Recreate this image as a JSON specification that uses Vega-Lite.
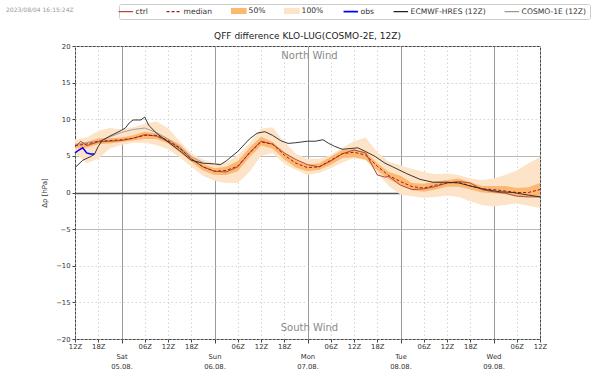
{
  "$schema": "https://vega.github.io/schema/vega-lite/v6.json",
  "width": 465,
  "height": 293,
  "autosize": "none",
  "padding": {"left": 75, "top": 46, "right": 60, "bottom": 42},
  "background": "white",
  "config": {"font": "DejaVu Sans", "view": {"stroke": "#444", "strokeWidth": 1}},
  "title": {"text": "QFF difference KLO-LUG(COSMO-2E, 12Z)", "fontSize": 9, "fontWeight": "normal", "color": "#222", "offset": 5, "anchor": "middle", "frame": "group", "dy": 42},
  "datasets": {
    "ens": [
      {"h": 0, "lo100": 5.4, "hi100": 7.2, "lo50": 6.0, "hi50": 6.7, "med": 6.4},
      {"h": 3, "lo100": 4.0, "hi100": 7.5, "lo50": 6.1, "hi50": 6.9, "med": 6.6},
      {"h": 6, "lo100": 4.6, "hi100": 8.4, "lo50": 6.6, "hi50": 7.4, "med": 7.0},
      {"h": 9, "lo100": 6.0, "hi100": 8.8, "lo50": 6.7, "hi50": 7.4, "med": 7.1},
      {"h": 12, "lo100": 6.5, "hi100": 8.6, "lo50": 6.9, "hi50": 7.5, "med": 7.2},
      {"h": 15, "lo100": 6.8, "hi100": 8.9, "lo50": 7.1, "hi50": 7.8, "med": 7.4},
      {"h": 18, "lo100": 6.8, "hi100": 9.4, "lo50": 7.3, "hi50": 8.3, "med": 7.8},
      {"h": 21, "lo100": 6.5, "hi100": 9.7, "lo50": 7.3, "hi50": 8.1, "med": 7.8},
      {"h": 24, "lo100": 5.9, "hi100": 8.8, "lo50": 6.7, "hi50": 7.4, "med": 7.1},
      {"h": 27, "lo100": 4.8, "hi100": 7.0, "lo50": 5.5, "hi50": 6.6, "med": 6.1},
      {"h": 30, "lo100": 3.5, "hi100": 5.4, "lo50": 4.2, "hi50": 5.0, "med": 4.6},
      {"h": 33, "lo100": 2.3, "hi100": 4.5, "lo50": 3.0, "hi50": 3.9, "med": 3.5},
      {"h": 36, "lo100": 1.6, "hi100": 4.0, "lo50": 2.4, "hi50": 3.3, "med": 2.9},
      {"h": 39, "lo100": 1.3, "hi100": 4.1, "lo50": 2.4, "hi50": 3.5, "med": 3.0},
      {"h": 42, "lo100": 1.3, "hi100": 5.1, "lo50": 2.9, "hi50": 4.3, "med": 3.6},
      {"h": 45, "lo100": 2.8, "hi100": 6.7, "lo50": 4.8, "hi50": 6.1, "med": 5.4},
      {"h": 48, "lo100": 5.0, "hi100": 8.7, "lo50": 6.4, "hi50": 7.6, "med": 6.9},
      {"h": 51, "lo100": 5.4, "hi100": 8.9, "lo50": 6.0, "hi50": 6.9, "med": 6.6},
      {"h": 54, "lo100": 3.9, "hi100": 6.9, "lo50": 4.5, "hi50": 5.5, "med": 5.1},
      {"h": 57, "lo100": 3.1, "hi100": 5.3, "lo50": 3.4, "hi50": 4.4, "med": 4.0},
      {"h": 60, "lo100": 2.4, "hi100": 4.6, "lo50": 2.9, "hi50": 3.8, "med": 3.4},
      {"h": 63, "lo100": 2.7, "hi100": 4.6, "lo50": 3.1, "hi50": 4.0, "med": 3.5},
      {"h": 66, "lo100": 3.3, "hi100": 5.1, "lo50": 3.8, "hi50": 4.9, "med": 4.4},
      {"h": 69, "lo100": 4.1, "hi100": 6.1, "lo50": 4.7, "hi50": 5.8, "med": 5.3},
      {"h": 72, "lo100": 4.7, "hi100": 7.0, "lo50": 4.8, "hi50": 5.9, "med": 5.5},
      {"h": 75, "lo100": 4.4, "hi100": 7.5, "lo50": 4.5, "hi50": 5.6, "med": 5.1},
      {"h": 78, "lo100": 2.6, "hi100": 5.5, "lo50": 3.0, "hi50": 4.0, "med": 3.6},
      {"h": 81, "lo100": 0.9, "hi100": 4.2, "lo50": 1.8, "hi50": 2.8, "med": 2.3},
      {"h": 84, "lo100": -0.3, "hi100": 3.7, "lo50": 1.0, "hi50": 2.3, "med": 1.5},
      {"h": 87, "lo100": -0.5, "hi100": 3.2, "lo50": 0.3, "hi50": 1.3, "med": 0.8},
      {"h": 90, "lo100": -0.7, "hi100": 2.8, "lo50": 0.1, "hi50": 1.2, "med": 0.6},
      {"h": 93, "lo100": -0.6, "hi100": 2.5, "lo50": 0.4, "hi50": 1.5, "med": 1.0},
      {"h": 96, "lo100": -0.4, "hi100": 2.6, "lo50": 0.8, "hi50": 1.7, "med": 1.3},
      {"h": 99, "lo100": -0.6, "hi100": 2.4, "lo50": 0.8, "hi50": 1.9, "med": 1.4},
      {"h": 102, "lo100": -1.2, "hi100": 1.9, "lo50": 0.4, "hi50": 1.4, "med": 0.9},
      {"h": 105, "lo100": -1.7, "hi100": 1.7, "lo50": 0.0, "hi50": 0.9, "med": 0.5},
      {"h": 108, "lo100": -1.9, "hi100": 1.9, "lo50": -0.1, "hi50": 0.9, "med": 0.4},
      {"h": 111, "lo100": -1.7, "hi100": 2.4, "lo50": -0.2, "hi50": 0.9, "med": 0.2},
      {"h": 114, "lo100": -1.5, "hi100": 3.0, "lo50": -0.5, "hi50": 0.6, "med": 0.0},
      {"h": 117, "lo100": -1.8, "hi100": 4.0, "lo50": -0.6, "hi50": 0.7, "med": 0.0},
      {"h": 120, "lo100": -2.1, "hi100": 4.8, "lo50": -0.5, "hi50": 1.3, "med": 0.4}
    ],
    "ctrl": [
      {"h": 0, "v": 6.2}, {"h": 1.5, "v": 7.0}, {"h": 3, "v": 6.4}, {"h": 6, "v": 6.9}, {"h": 9, "v": 7.0},
      {"h": 12, "v": 7.1}, {"h": 15, "v": 7.4}, {"h": 18, "v": 7.9}, {"h": 21, "v": 7.7}, {"h": 24, "v": 7.0},
      {"h": 27, "v": 6.0}, {"h": 30, "v": 4.6}, {"h": 33, "v": 3.5}, {"h": 36, "v": 2.9}, {"h": 39, "v": 2.8},
      {"h": 42, "v": 3.5}, {"h": 45, "v": 5.4}, {"h": 48, "v": 7.0}, {"h": 51, "v": 6.6}, {"h": 54, "v": 5.4},
      {"h": 57, "v": 4.5}, {"h": 60, "v": 3.8}, {"h": 63, "v": 3.5}, {"h": 66, "v": 4.3}, {"h": 69, "v": 5.3},
      {"h": 72, "v": 5.8}, {"h": 75, "v": 5.4}, {"h": 78, "v": 2.4}, {"h": 80, "v": 2.1}, {"h": 81, "v": 2.2},
      {"h": 84, "v": 1.0}, {"h": 87, "v": 0.4}, {"h": 90, "v": 0.5}, {"h": 93, "v": 0.8}, {"h": 96, "v": 1.3},
      {"h": 99, "v": 1.5}, {"h": 102, "v": 1.3}, {"h": 105, "v": 0.4}, {"h": 108, "v": 0.1}, {"h": 111, "v": -0.1},
      {"h": 114, "v": -0.5}, {"h": 117, "v": -0.6}, {"h": 120, "v": -0.6}
    ],
    "obs": [
      {"h": 0, "v": 5.4}, {"h": 1, "v": 5.8}, {"h": 2, "v": 6.1}, {"h": 3, "v": 5.4}, {"h": 4, "v": 5.25}, {"h": 5, "v": 5.25}
    ],
    "ecmwf": [
      {"h": 0, "v": 3.4}, {"h": 2, "v": 4.4}, {"h": 4, "v": 4.9}, {"h": 5, "v": 5.2}, {"h": 6, "v": 6.3},
      {"h": 7, "v": 7.1}, {"h": 9, "v": 7.7}, {"h": 12, "v": 8.5}, {"h": 13, "v": 8.8}, {"h": 14, "v": 9.5},
      {"h": 15, "v": 9.9}, {"h": 17, "v": 9.9}, {"h": 18, "v": 10.3}, {"h": 19, "v": 9.2}, {"h": 21, "v": 8.1},
      {"h": 24, "v": 6.9}, {"h": 27, "v": 5.7}, {"h": 30, "v": 4.4}, {"h": 33, "v": 4.0}, {"h": 36, "v": 3.9},
      {"h": 37.5, "v": 3.8}, {"h": 39, "v": 4.3}, {"h": 42, "v": 5.6}, {"h": 45, "v": 7.3}, {"h": 47, "v": 8.1},
      {"h": 49, "v": 8.3}, {"h": 51, "v": 7.8}, {"h": 53, "v": 7.1}, {"h": 55, "v": 6.7}, {"h": 57, "v": 6.8},
      {"h": 60, "v": 7.0}, {"h": 62, "v": 7.0}, {"h": 64, "v": 7.2}, {"h": 65.5, "v": 6.7}, {"h": 67, "v": 6.3},
      {"h": 69, "v": 5.9}, {"h": 71, "v": 6.0}, {"h": 73, "v": 6.1}, {"h": 75, "v": 5.6}, {"h": 77.5, "v": 4.9},
      {"h": 80, "v": 4.0}, {"h": 82, "v": 3.5}, {"h": 85.5, "v": 2.6}, {"h": 89, "v": 1.8}, {"h": 92.4, "v": 1.4},
      {"h": 96, "v": 1.4}, {"h": 99, "v": 1.3}, {"h": 102.7, "v": 0.8}, {"h": 106, "v": 0.4}, {"h": 109.6, "v": 0.1},
      {"h": 113, "v": 0.0}, {"h": 116.4, "v": -0.3}, {"h": 120, "v": -0.6}
    ],
    "c1e": [
      {"h": 0, "v": 6.5}, {"h": 3, "v": 6.8}, {"h": 6, "v": 7.0}, {"h": 9, "v": 7.6}, {"h": 12, "v": 8.2},
      {"h": 15, "v": 8.6}, {"h": 18, "v": 8.8}, {"h": 21, "v": 8.2}, {"h": 24, "v": 7.3}, {"h": 27, "v": 6.2},
      {"h": 30, "v": 4.9}, {"h": 33, "v": 4.1}
    ],
    "notes": [
      {"h": 60.5, "v": 18.6, "t": "North Wind"},
      {"h": 60.5, "v": -18.5, "t": "South Wind"}
    ],
    "stamp": [
      {"h": -17.8, "v": 24.9, "t": "2023/08/04 16:15:24Z"}
    ]
  },
  "encoding": {
    "x": {
      "field": "h", "type": "quantitative", "title": null,
      "scale": {"domain": [0, 120], "nice": false, "zero": false},
      "axis": {
        "values": [0, 6, 12, 18, 24, 30, 36, 42, 48, 54, 60, 66, 72, 78, 84, 90, 96, 102, 108, 114, 120],
        "title": null,
        "domain": false,
        "grid": true,
        "gridColor": {"condition": {"test": "datum.value % 24 === 12", "value": "#9a9a9a"}, "value": "#c9c9c9"},
        "gridDash": {"condition": {"test": "datum.value % 24 === 12", "value": []}, "value": [1.5, 2.5]},
        "gridWidth": {"condition": {"test": "datum.value % 24 === 12", "value": 1}, "value": 0.8},
        "tickColor": "#444",
        "tickSize": {"condition": {"test": "datum.value % 24 === 12", "value": 4}, "value": 3},
        "labelExpr": "datum.value === 12 ? ['', 'Sat', '05.08.'] : datum.value === 36 ? ['', 'Sun', '06.08.'] : datum.value === 60 ? ['', 'Mon', '07.08.'] : datum.value === 84 ? ['', 'Tue', '08.08.'] : datum.value === 108 ? ['', 'Wed', '09.08.'] : (datum.value % 24 === 0 ? '12Z' : datum.value % 24 === 6 ? '18Z' : '06Z')",
        "labelFontSize": 6.8,
        "labelColor": "#333",
        "labelPadding": 1,
        "labelLineHeight": 9.5,
        "labelFlush": false,
        "labelOverlap": false,
        "labelBaseline": "top"
      }
    },
    "y": {
      "field": "v", "type": "quantitative", "title": "Δp [hPa]",
      "scale": {"domain": [-20, 20], "nice": false, "zero": false},
      "axis": {
        "values": [-20, -15, -10, -5, 0, 5, 10, 15, 20],
        "title": "Δp [hPa]",
        "titleFontSize": 7,
        "titleFontWeight": "normal",
        "titleColor": "#333",
        "titlePadding": 8,
        "domain": false,
        "grid": true,
        "gridColor": {"condition": [{"test": "datum.value === 0", "value": "#555555"}, {"test": "abs(datum.value) === 5", "value": "#a8a8a8"}], "value": "#c9c9c9"},
        "gridDash": {"condition": {"test": "abs(datum.value) >= 10", "value": [1.5, 2.5]}, "value": []},
        "gridWidth": {"condition": {"test": "datum.value === 0", "value": 1.4}, "value": 0.8},
        "tickColor": "#444",
        "tickSize": 3,
        "labelFontSize": 6.8,
        "labelColor": "#333",
        "labelPadding": 2,
        "labelOverlap": false,
        "labelFlush": false
      }
    }
  },
  "layer": [
    {
      "data": {"name": "ens"},
      "mark": {"type": "area", "opacity": 1},
      "encoding": {
        "y": {
          "field": "lo100", "type": "quantitative", "title": "Δp [hPa]",
          "axis": {
            "values": [-20, -15, -10, -5, 0, 5, 10, 15, 20],
            "title": "Δp [hPa]",
            "titleFontSize": 7,
            "titleFontWeight": "normal",
            "titleColor": "#333",
            "titlePadding": 8,
            "domain": false,
            "grid": true,
            "gridColor": {"condition": [{"test": "datum.value === 0", "value": "#555555"}, {"test": "abs(datum.value) === 5", "value": "#a8a8a8"}], "value": "#c9c9c9"},
            "gridDash": {"condition": {"test": "abs(datum.value) >= 10", "value": [1.5, 2.5]}, "value": []},
            "gridWidth": {"condition": {"test": "datum.value === 0", "value": 1.4}, "value": 0.8},
            "tickColor": "#444",
            "tickSize": 3,
            "labelFontSize": 6.8,
            "labelColor": "#333",
            "labelPadding": 2,
            "labelOverlap": false,
            "labelFlush": false
          }
        },
        "y2": {"field": "hi100"},
        "color": {
          "datum": "100%", "type": "nominal",
          "scale": {
            "domain": ["ctrl", "median", "50%", "100%", "obs", "ECMWF-HRES (12Z)", "COSMO-1E (12Z)"],
            "range": ["#b4493f", "#9b1c1c", "#fcb870", "#fde3c7", "#0000ff", "#222222", "#9a9a9a"]
          },
          "legend": {
            "orient": "none",
            "legendX": 44,
            "legendY": -42,
            "direction": "horizontal",
            "title": null,
            "symbolSize": 210,
            "symbolStrokeWidth": 1.2,
            "labelFontSize": 7.6,
            "labelColor": "#333",
            "labelOffset": 6,
            "columnPadding": 16,
            "padding": 3,
            "strokeColor": "#cccccc",
            "fillColor": "white",
            "cornerRadius": 2,
            "labelLimit": 200,
            "encoding": {
              "symbols": {
                "shape": {"value": {"expr": "datum.value === '50%' || datum.value === '100%' ? 'M-1,-0.32H1V0.32H-1Z' : 'stroke'"}},
                "fill": {"value": {"expr": "datum.value === '50%' || datum.value === '100%' ? scale('color', datum.value) : 'transparent'"}},
                "stroke": {"value": {"expr": "datum.value === '50%' || datum.value === '100%' ? 'transparent' : scale('color', datum.value)"}},
                "strokeDash": {"value": {"expr": "datum.value === 'median' ? [3, 2] : [1, 0]"}},
                "strokeWidth": {"value": {"expr": "datum.value === 'obs' ? 1.6 : 1.2"}},
                "opacity": {"value": 1}
              }
            }
          }
        }
      }
    },
    {
      "data": {"name": "ens"},
      "mark": {"type": "area", "opacity": 1},
      "encoding": {
        "y": {"field": "lo50", "type": "quantitative", "title": "Δp [hPa]"},
        "y2": {"field": "hi50"},
        "color": {"datum": "50%", "type": "nominal"}
      }
    },
    {
      "data": {"name": "c1e"},
      "mark": {"type": "line", "strokeWidth": 0.9},
      "encoding": {
        "color": {"datum": "COSMO-1E (12Z)", "type": "nominal"}
      }
    },
    {
      "data": {"name": "ctrl"},
      "mark": {"type": "line", "strokeWidth": 1},
      "encoding": {
        "color": {"datum": "ctrl", "type": "nominal"}
      }
    },
    {
      "data": {"name": "ens"},
      "mark": {"type": "line", "strokeWidth": 1, "strokeDash": [3, 2]},
      "encoding": {
        "y": {"field": "med", "type": "quantitative", "title": "Δp [hPa]"},
        "color": {"datum": "median", "type": "nominal"}
      }
    },
    {
      "data": {"name": "ecmwf"},
      "mark": {"type": "line", "strokeWidth": 0.9},
      "encoding": {
        "color": {"datum": "ECMWF-HRES (12Z)", "type": "nominal"}
      }
    },
    {
      "data": {"name": "obs"},
      "mark": {"type": "line", "strokeWidth": 1.5},
      "encoding": {
        "color": {"datum": "obs", "type": "nominal"}
      }
    },
    {
      "data": {"name": "notes"},
      "mark": {"type": "text", "fontSize": 10, "color": "#8a8a8a", "align": "center", "baseline": "middle"},
      "encoding": {
        "text": {"field": "t"}
      }
    },
    {
      "data": {"name": "stamp"},
      "mark": {"type": "text", "fontSize": 6, "color": "#999999", "align": "left", "baseline": "middle"},
      "encoding": {
        "text": {"field": "t"}
      }
    }
  ]
}
